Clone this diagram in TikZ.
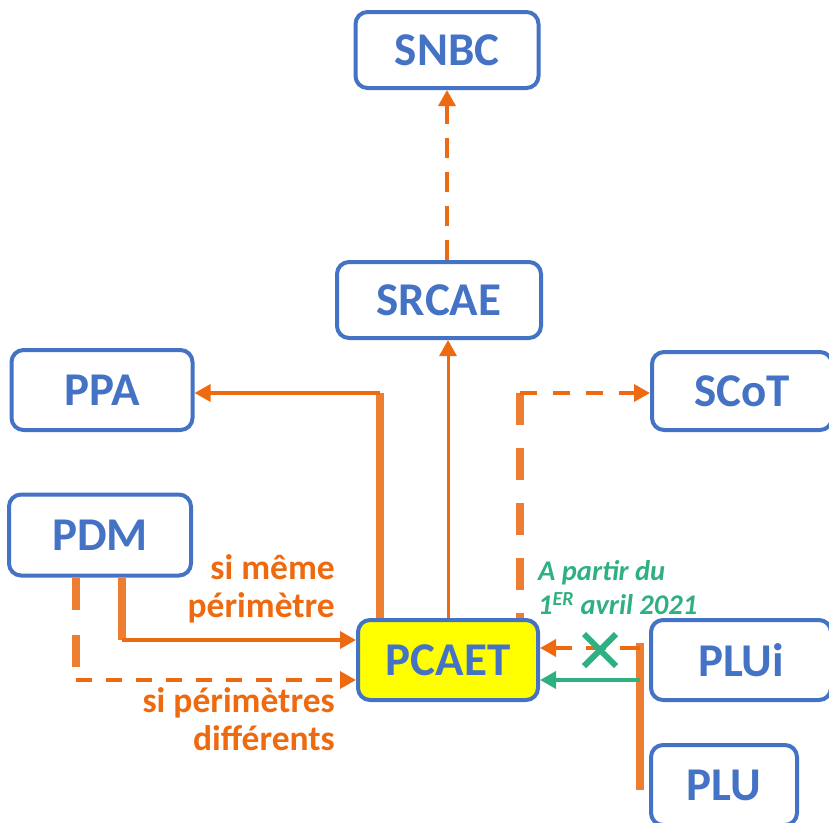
\documentclass[tikz,border=0pt]{standalone}
\usepackage{fontspec}
\setmainfont{Carlito}
\usetikzlibrary{arrows.meta,calc,shapes.misc}
\definecolor{BoxClr}{RGB}{68,114,196}
\definecolor{BarClr}{RGB}{237,125,49}
\definecolor{ArrClr}{RGB}{238,106,16}
\definecolor{GreenClr}{RGB}{46,176,128}
\definecolor{FillClr}{RGB}{255,255,0}

\begin{document}
\begin{tikzpicture}[x=1pt,y=-1pt,
  plan/.style={draw=BoxClr,line width=4pt,rounded corners=12pt,fill=white,
    text=BoxClr,font=\fontsize{47}{50}\selectfont\bfseries},
  bar/.style={draw=BarClr,line width=8pt},
  link/.style={-{Triangle[length=16pt,width=17pt]},draw=ArrClr,line width=3.5pt},
  note/.style={text=ArrClr,font=\fontsize{35.5}{38}\selectfont\bfseries,
    align=right,inner sep=0pt}]
\useasboundingbox (0,0) rectangle (829,822);

% The plans.
\node[plan,minimum width=183pt,minimum height=76pt] (snbc) at (447,50) {SNBC};
\node[plan,minimum width=204pt,minimum height=76pt] (srcae) at (439,300) {SRCAE};
\node[plan,minimum width=181pt,minimum height=80pt] (ppa) at (102,390) {PPA};
\node[plan,minimum width=180pt,minimum height=78pt] (scot) at (742,391) {SCoT};
\node[plan,minimum width=182pt,minimum height=81pt] (pdm) at (100,535) {PDM};
\node[plan,fill=FillClr,minimum width=180pt,minimum height=80pt] (pcaet) at (448,660) {PCAET};
\node[plan,minimum width=180pt,minimum height=80pt] (plui) at (741,660) {PLUi};
\node[plan,minimum width=146pt,minimum height=80pt] (plu) at (724,785) {PLU};

% Upwards.
\draw[link,dash pattern=on 20pt off 14pt] (snbc.south |- srcae.north) -- (snbc.south);
\draw[link,line width=3pt] (pcaet.north) -- (srcae.south -| pcaet.north);

% PPA and SCoT.
\coordinate (ppaBend) at (380,393);
\coordinate (scotBend) at (520,393);
\draw[bar] (pcaet.north -| ppaBend) -- (ppaBend);
\draw[link] (ppaBend) -- (ppaBend -| ppa.east);
\draw[bar,dash pattern=on 32pt off 23pt] (scotBend) -- (pcaet.north -| scotBend);
\draw[link,dash pattern=on 17pt off 16pt] (scotBend) -- (scotBend -| scot.west);

% PDM.
\coordinate (pdmSame) at (122,640);
\coordinate (pdmDiff) at (76,680);
\draw[bar] (pdm.south -| pdmSame) -- (pdmSame);
\draw[link] (pdmSame) -- (pdmSame -| pcaet.west);
\draw[bar,dash pattern=on 32pt off 25pt] (pdm.south -| pdmDiff) -- (pdmDiff);
\draw[link,dash pattern=on 16pt off 14pt] (pdmDiff) -- (pdmDiff -| pcaet.west);

\node[note,anchor=north east] (same) at (335,554) {si même\\périmètre};
\node[note,anchor=north east] (diff) at (335,687) {si périmètres\\différents};

% PLUi and PLU.
\coordinate (pluTop) at (640,643);
\coordinate (pluBot) at (640,790);
\coordinate (pluOld) at (640,648);
\coordinate (pluNew) at (640,680);
\draw[bar] (pluTop) -- (pluBot);
\draw[link,dash pattern=on 20pt off 14pt] (pluOld) -- (pluOld -| pcaet.east);
\draw[link,draw=GreenClr] (pluNew) -- (pluNew -| pcaet.east);
\node[cross out,draw=GreenClr,line width=6pt,minimum size=26pt] (stopX) at (600,650) {};

\node[text=GreenClr,font=\fontsize{28.5}{34}\selectfont\bfseries\itshape,
  align=left,inner sep=0pt,anchor=north west] (date) at (538,560)
  {A partir du\\1\textsuperscript{ER} avril 2021};

\end{tikzpicture}
\end{document}
